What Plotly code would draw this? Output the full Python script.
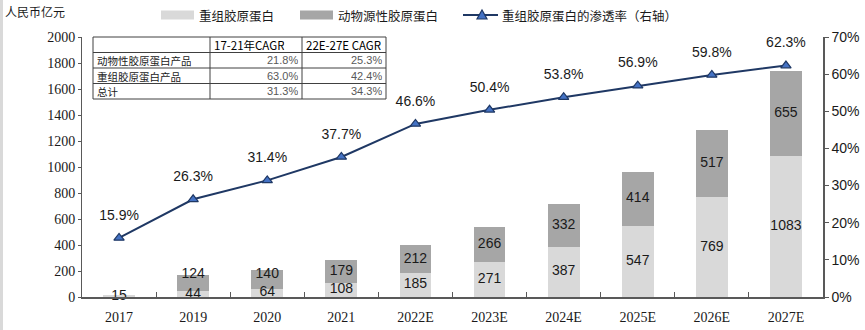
import plotly.graph_objects as go

years = ["2017", "2019", "2020", "2021", "2022E", "2023E", "2024E", "2025E", "2026E", "2027E"]
recomb = [15, 44, 64, 108, 185, 271, 387, 547, 769, 1083]
animal = [None, 124, 140, 179, 212, 266, 332, 414, 517, 655]
penetration = [0.159, 0.263, 0.314, 0.377, 0.466, 0.504, 0.538, 0.569, 0.598, 0.623]

legend_names = ["重组胶原蛋白", "动物源性胶原蛋白", "重组胶原蛋白的渗透率（右轴）"]

table_header = ["", "17-21年CAGR", "22E-27E CAGR"]
table_rows = ["动物性胶原蛋白产品", "重组胶原蛋白产品", "总计"]
cagr_1721 = ["21.8%", "63.0%", "31.3%"]
cagr_2227 = ["25.3%", "42.4%", "34.3%"]

W, H = 865, 330
L, R, T, B = 82, 42, 37, 33
PW, PH = W - L - R, H - T - B

def px(x):
    return (x - L) / PW

def py(y):
    return (H - B - y) / PH

C_LIGHT, C_DARK, C_LINE, C_MARK = "#d9d9d9", "#a6a6a6", "#1f3864", "#4472c4"
lblfont = dict(family="Liberation Sans, Arial", size=14, color="#1a1a1a")

fig = go.Figure()
fig.add_trace(go.Bar(x=years, y=recomb, name=legend_names[0],
                     marker=dict(color=C_LIGHT, line=dict(width=0)), textposition="none"))
fig.add_trace(go.Bar(x=years, y=animal, name=legend_names[1],
                     marker=dict(color=C_DARK, line=dict(width=0)), textposition="none"))

# bar value labels (centred in segment; small top segments lifted a little, as in the source)
rec_mid = [v / 2 for v in recomb]
ani_x = [y for y, a in zip(years, animal) if a is not None]
ani_mid = [max(r + a / 2, 175) for r, a in zip(recomb, animal) if a is not None]
ani_txt = [str(a) for a in animal if a is not None]
fig.add_trace(go.Scatter(x=years, y=rec_mid, mode="text", text=[str(v) for v in recomb],
                         textfont=lblfont, showlegend=False, hoverinfo="skip", cliponaxis=False))
fig.add_trace(go.Scatter(x=ani_x, y=ani_mid, mode="text", text=ani_txt, textfont=lblfont,
                         showlegend=False, hoverinfo="skip", cliponaxis=False))

fig.add_trace(go.Scatter(
    x=years, y=penetration, name=legend_names[2], yaxis="y2", mode="lines+markers",
    line=dict(color=C_LINE, width=2),
    marker=dict(symbol="triangle-up", size=9, color=C_MARK, line=dict(color=C_LINE, width=1.2)),
    cliponaxis=False,
))
fig.add_trace(go.Scatter(
    x=years, y=penetration, yaxis="y2", mode="markers+text", showlegend=False, hoverinfo="skip",
    marker=dict(size=22, color="rgba(0,0,0,0)"),
    text=[f"{v*100:.1f}%" for v in penetration], textposition="top center",
    textfont=lblfont, cliponaxis=False,
))

fig.update_layout(
    width=W, height=H, margin=dict(l=L, r=R, t=T, b=B, autoexpand=False),
    paper_bgcolor="white", plot_bgcolor="white",
    barmode="stack", bargap=0.57, showlegend=False,
    font=dict(family="Liberation Serif, Times New Roman", size=14, color="#1a1a1a"),
    xaxis=dict(type="category", range=[-0.5, len(years) - 0.5], showline=True,
               linecolor="#595959", linewidth=1.5, automargin=False,
               ticks="inside", tickson="boundaries", ticklen=5, tickcolor="#595959",
               ticklabelstandoff=6,
               tickfont=dict(family="Liberation Serif, Times New Roman", size=14, color="#1a1a1a"),
               showgrid=False),
    yaxis=dict(range=[0, 2000], dtick=200, showline=True, linecolor="#595959", linewidth=1,
               ticks="outside", ticklen=3, tickcolor="#595959", showgrid=False, zeroline=False,
               automargin=False,
               tickfont=dict(family="Liberation Serif, Times New Roman", size=14, color="#1a1a1a")),
    yaxis2=dict(range=[0, 0.7], dtick=0.1, tickformat=".0%", overlaying="y", side="right",
                showline=True, linecolor="#595959", linewidth=1.5, ticks="outside", ticklen=4,
                tickcolor="#595959", showgrid=False, zeroline=False, automargin=False,
                tickfont=dict(family="Liberation Sans, Arial", size=14, color="#1a1a1a")),
)

shapes = []
annotations = []
shapes.append(dict(type="rect", xref="paper", yref="paper", x0=px(0), x1=px(3), y0=py(H), y1=py(0),
                   fillcolor="#d9d9d9", line=dict(width=0), layer="below"))
annotations.append(dict(text="人民币亿元", xref="paper", yref="paper", x=px(3), y=py(12),
                        xanchor="left", yanchor="middle", showarrow=False,
                        font=dict(family="Noto Sans CJK SC", size=12, color="#1a1a1a")))

# legend drawn by hand (wide swatches as in the source)
legfont = dict(family="Noto Sans CJK SC", size=12.5, color="#1a1a1a")
ly = 15
for (x0, x1), col, name in [((161, 194), C_LIGHT, legend_names[0]), ((300, 333), C_DARK, legend_names[1])]:
    shapes.append(dict(type="rect", xref="paper", yref="paper", x0=px(x0), x1=px(x1),
                       y0=py(ly + 4.5), y1=py(ly - 4.5), fillcolor=col, line=dict(width=0)))
    annotations.append(dict(text=name, xref="paper", yref="paper", x=px(x1 + 3), y=py(ly),
                            xanchor="left", yanchor="middle", showarrow=False, font=legfont))
shapes.append(dict(type="line", xref="paper", yref="paper", x0=px(463), x1=px(498),
                   y0=py(ly), y1=py(ly), line=dict(color=C_LINE, width=2)))
tri = f"M {px(477)} {py(ly + 4)} L {px(487)} {py(ly + 4)} L {px(482)} {py(ly - 5)} Z"
shapes.append(dict(type="path", xref="paper", yref="paper", path=tri, fillcolor=C_MARK,
                   line=dict(color=C_LINE, width=1.2)))
annotations.append(dict(text=legend_names[2], xref="paper", yref="paper", x=px(500), y=py(ly),
                        xanchor="left", yanchor="middle", showarrow=False, font=legfont))

# CAGR table
tx = [93, 210, 302, 386]
ty0, rh = 37, 15.5
nrows = 1 + len(table_rows)
shapes.append(dict(type="rect", xref="paper", yref="paper", x0=px(tx[0]), x1=px(tx[-1]),
                   y0=py(ty0 + rh * nrows), y1=py(ty0), fillcolor="white",
                   line=dict(color="#404040", width=1)))
for i in range(1, nrows):
    shapes.append(dict(type="line", xref="paper", yref="paper", x0=px(tx[0]), x1=px(tx[-1]),
                       y0=py(ty0 + rh * i), y1=py(ty0 + rh * i), line=dict(color="#404040", width=1)))
for xv in tx[1:-1]:
    shapes.append(dict(type="line", xref="paper", yref="paper", x0=px(xv), x1=px(xv),
                       y0=py(ty0 + rh * nrows), y1=py(ty0), line=dict(color="#404040", width=1)))
tfont = dict(family="Noto Sans CJK SC", size=10.5, color="#1a1a1a")
nfont = dict(family="Liberation Sans, Arial", size=11, color="#595959")
for j, h in enumerate(table_header):
    if h:
        annotations.append(dict(text=h, xref="paper", yref="paper", x=px(tx[j] + 2), y=py(ty0 + rh / 2),
                                xanchor="left", yanchor="middle", showarrow=False, height=14,
                                font=dict(family="Noto Sans CJK SC", size=11.5, color="#000000")))
for i, name in enumerate(table_rows):
    yc = py(ty0 + rh * (i + 1.5))
    annotations.append(dict(text=name, xref="paper", yref="paper", x=px(tx[0] + 2), y=yc, height=14,
                            xanchor="left", yanchor="middle", showarrow=False, font=tfont))
    annotations.append(dict(text=cagr_1721[i], xref="paper", yref="paper", x=px(tx[2] - 2), y=yc, height=14,
                            xanchor="right", yanchor="middle", showarrow=False, font=nfont))
    annotations.append(dict(text=cagr_2227[i], xref="paper", yref="paper", x=px(tx[3] - 2), y=yc, height=14,
                            xanchor="right", yanchor="middle", showarrow=False, font=nfont))

fig.update_layout(shapes=shapes, annotations=annotations)
fig.write_html("out.html")
